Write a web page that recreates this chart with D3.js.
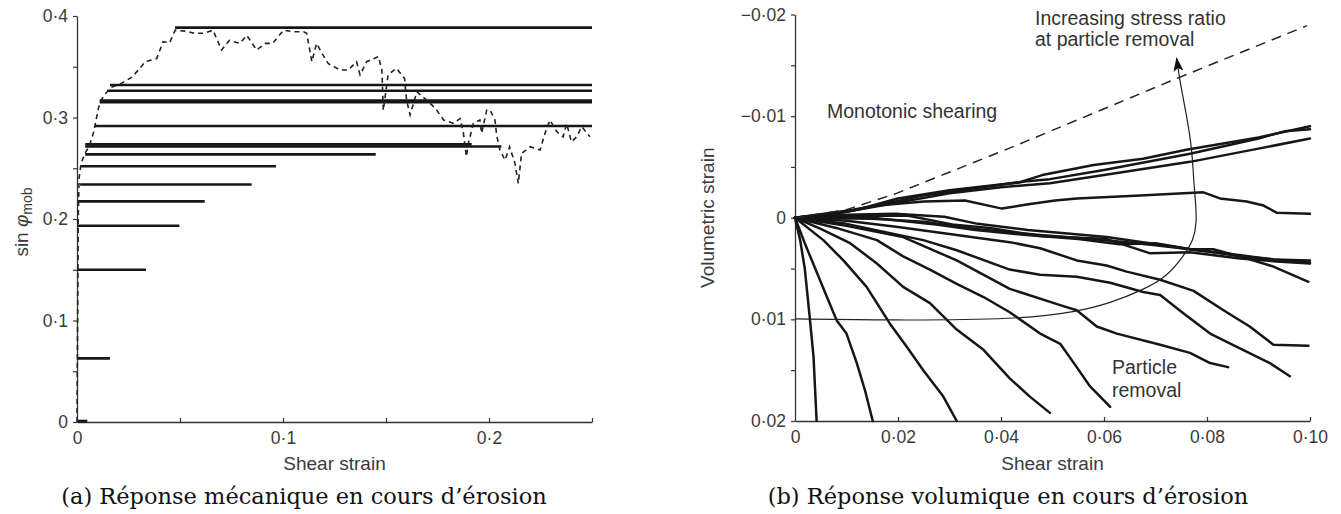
<!DOCTYPE html>
<html><head><meta charset="utf-8">
<script src="https://cdn.jsdelivr.net/npm/d3@7"></script>
<style>
body{margin:0;background:#fff;}
svg{display:block;}
</style></head><body>
<svg id="chart" width="1341" height="514"></svg>
<script>
// ---------------- DATA ----------------
// Panel (a): monotonic shearing curve (dashed): shear strain vs sin phi_mob
const monoStrain = [0,0.0003,0.0006,0.001,0.002,0.004,0.006,0.008,0.009,0.0105,0.012,0.014,0.017,0.021,0.0265,0.0306,0.033,0.0387,0.0418,0.045,0.0476,0.053,0.057,0.0614,0.066,0.0702,0.074,0.079,0.0824,0.0872,0.0913,0.095,0.1002,0.105,0.11,0.1115,0.114,0.1163,0.119,0.122,0.1277,0.1317,0.1357,0.1374,0.1406,0.1463,0.148,0.1487,0.151,0.155,0.159,0.16,0.1617,0.165,0.1706,0.174,0.178,0.1827,0.186,0.1876,0.189,0.19,0.1924,0.1956,0.1964,0.1989,0.2005,0.2029,0.2037,0.2053,0.2078,0.21,0.2126,0.2142,0.2158,0.22,0.2248,0.2272,0.2296,0.2329,0.236,0.2377,0.24,0.2426,0.245,0.249];
const monoSin = [0,0.10,0.20,0.24,0.255,0.265,0.272,0.285,0.295,0.31,0.318,0.324,0.33,0.333,0.3395,0.3485,0.355,0.358,0.3747,0.3737,0.386,0.385,0.383,0.383,0.386,0.3665,0.376,0.373,0.381,0.3665,0.373,0.373,0.386,0.3845,0.3845,0.383,0.355,0.373,0.363,0.353,0.3468,0.3468,0.355,0.342,0.355,0.36,0.3468,0.307,0.342,0.3485,0.3385,0.317,0.3025,0.3254,0.3155,0.309,0.2975,0.2943,0.299,0.2844,0.2614,0.2745,0.2943,0.2975,0.2844,0.3074,0.3074,0.2975,0.2828,0.268,0.258,0.2712,0.2548,0.235,0.2646,0.2712,0.268,0.2844,0.2975,0.286,0.281,0.294,0.276,0.281,0.291,0.281];
// Panel (a): constant stress-ratio lines after particle removal
const removalSin   = [0.3885,0.332,0.3264,0.3168,0.315,0.2916,0.2735,0.2715,0.2637,0.252,0.234,0.2174,0.1934,0.15,0.0627,0.001];
const removalStart = [0.0476,0.016,0.0146,0.011,0.011,0.0087,0.004,0.004,0.004,0.002,0.0015,0.0005,0.0003,0.0003,0.0002,0];
const removalEnd   = [0.25,0.25,0.25,0.25,0.25,0.25,0.1916,0.206,0.145,0.0966,0.0848,0.062,0.0497,0.0335,0.016,0.005];

// Panel (b): [shear strain, volumetric strain]
const monoVol = [[0,0],[0.01,-0.0008],[0.0197,-0.0024],[0.0424,-0.0070],[0.0741,-0.0137],[0.0994,-0.0189]];
const curveA = [[0,0],[0.006,-0.0003],[0.012,-0.0008],[0.02,-0.0019],[0.03,-0.0027],[0.0437,-0.0035],[0.048,-0.0042],[0.058,-0.0052],[0.0676,-0.0058],[0.076,-0.0067],[0.09,-0.0079],[0.1,-0.0090]];
const curveB = [[0,0],[0.008,-0.0004],[0.015,-0.0011],[0.025,-0.0022],[0.035,-0.0029],[0.045,-0.0036],[0.0495,-0.0038],[0.06,-0.0047],[0.0767,-0.0063],[0.09,-0.0078],[0.095,-0.0085],[0.1,-0.0087]];
const curveC = [[0,0],[0.01,-0.0006],[0.02,-0.0015],[0.03,-0.0024],[0.04,-0.003],[0.0495,-0.0034],[0.06,-0.0042],[0.0767,-0.0055],[0.09,-0.0068],[0.1,-0.0078]];
const curveD = [[0,0],[0.01,-0.0007],[0.0161,-0.0012],[0.025,-0.0016],[0.033,-0.0017],[0.0402,-0.0009],[0.045,-0.0013],[0.0505,-0.0017],[0.0547,-0.0019],[0.067,-0.0022],[0.0793,-0.0025],[0.0825,-0.0019],[0.0877,-0.0016],[0.091,-0.0012],[0.0935,-0.0005],[0.1,-0.0004]];
const curveE1 = [[0,0],[0.01,-0.0003],[0.0194,-0.0004],[0.029,-0.0001],[0.0355,0.0006],[0.0452,0.0012],[0.054,0.0016],[0.0605,0.0019],[0.0702,0.0026],[0.0767,0.0031],[0.0812,0.0031],[0.0864,0.0038],[0.0929,0.0041],[0.1,0.0042]];
const curveE2 = [[0,0],[0.012,-0.0002],[0.022,-0.0002],[0.031,0.0007],[0.0378,0.0010],[0.0476,0.0018],[0.0605,0.0021],[0.069,0.0035],[0.0767,0.0034],[0.0864,0.0040],[0.0935,0.0043],[0.1,0.0045]];
const curveE3 = [[0,0],[0.015,0],[0.0278,0.0007],[0.035,0.0012],[0.045,0.0017],[0.055,0.0021],[0.063,0.0026],[0.07,0.0025],[0.078,0.0032],[0.085,0.0036],[0.093,0.0041],[0.1,0.0044]];
const curveF = [[0,0],[0.015,0.0001],[0.025,0.0004],[0.035,0.0011],[0.0476,0.0017],[0.06,0.0022],[0.07,0.0027],[0.08,0.0033],[0.0864,0.0038],[0.0929,0.0048],[0.0997,0.0063]];
const curveG = [[0,0],[0.01,0.0003],[0.02,0.0009],[0.0314,0.0017],[0.0417,0.0024],[0.0476,0.003],[0.0547,0.0042],[0.0605,0.0047],[0.0644,0.0053],[0.0709,0.0061],[0.0774,0.0072],[0.0832,0.0091],[0.0883,0.0107],[0.0929,0.0125],[0.0997,0.0126]];
const curveH = [[0,0],[0.01,0.0006],[0.0249,0.0022],[0.0314,0.0032],[0.0417,0.0051],[0.0476,0.0056],[0.0547,0.0058],[0.0612,0.0064],[0.0676,0.0073],[0.0709,0.0076],[0.0754,0.0094],[0.0806,0.0114],[0.0858,0.0127],[0.0922,0.0143],[0.0961,0.0156]];
const curveI = [[0,0],[0.01,0.0008],[0.021,0.0019],[0.0314,0.0042],[0.0417,0.007],[0.0515,0.0086],[0.0547,0.0091],[0.0586,0.0107],[0.0625,0.0114],[0.0709,0.0125],[0.0767,0.0133],[0.0806,0.0143],[0.0841,0.0147]];
const curveJ = [[0,0],[0.008,0.001],[0.0159,0.0022],[0.021,0.0038],[0.0262,0.0051],[0.0314,0.0065],[0.0366,0.0078],[0.0417,0.0093],[0.0476,0.0114],[0.0515,0.0124],[0.0547,0.0147],[0.0573,0.0166],[0.0612,0.0186]];
const curveK = [[0,0],[0.005,0.0011],[0.0107,0.0025],[0.0159,0.0045],[0.021,0.0068],[0.0262,0.0084],[0.0314,0.011],[0.0366,0.013],[0.0417,0.0158],[0.0456,0.0176],[0.0495,0.0192]];
const curveL = [[0,0],[0.0055,0.0022],[0.0094,0.0042],[0.0139,0.0068],[0.0184,0.0104],[0.0217,0.0127],[0.0249,0.015],[0.0288,0.0176],[0.0314,0.02]];
const curveM = [[0,0],[0.0019,0.0025],[0.0062,0.0078],[0.0081,0.0101],[0.01,0.0114],[0.012,0.0143],[0.0136,0.017],[0.0151,0.02]];
const curveN = [[0,0],[0.001,0.0022],[0.0019,0.005],[0.0029,0.01],[0.0036,0.0137],[0.0042,0.02]];
const removalCurves = [curveA,curveB,curveC,curveD,curveE1,curveE2,curveE3,curveF,curveG,curveH,curveI,curveJ,curveK,curveL,curveM,curveN];
// annotation arrow (increasing stress ratio)
const arrowPath = [[0,0.00995],[0.0184,0.0101],[0.0437,0.0100],[0.0547,0.00925],[0.0612,0.0084],[0.0676,0.0071],[0.0722,0.0058],[0.0754,0.0038],[0.0774,0.0022],[0.078,0.0005],[0.0778,-0.0015],[0.0774,-0.0037],[0.0771,-0.0067],[0.0761,-0.0099],[0.0748,-0.0132],[0.0741,-0.0157]];

// ticks
const leftXTicks = [0.05,0.1,0.15,0.2,0.25];
const leftXTickLabels = ["","0·1","","0·2",""];
const leftYTicks = [0,0.05,0.1,0.15,0.2,0.25,0.3,0.35,0.4];
const leftYTickLabels = ["0","","0·1","","0·2","","0·3","","0·4"];
const rightXTicks = [0,0.02,0.04,0.06,0.08,0.1];
const rightXTickLabels = ["0","0·02","0·04","0·06","0·08","0·10"];
const rightYTicks = [-0.02,-0.015,-0.01,-0.005,0,0.005,0.01,0.015,0.02];
const rightYTickLabels = ["\u22120·02","","\u22120·01","","0","","0·01","","0·02"];

// ---------------- DRAW ----------------
const svg = d3.select("#chart");
const SANS = "'Liberation Sans', Arial, Helvetica, sans-serif";
const AX = "#333";
const INK = "#161616";

// scales
const xL = d3.scaleLinear().domain([0,0.25]).range([77,592]);
const yL = d3.scaleLinear().domain([0,0.4]).range([422,16]);
const xR = d3.scaleLinear().domain([0,0.1]).range([795,1310]);
const yR = d3.scaleLinear().domain([-0.02,0.02]).range([14.5,421]);

function styleAxis(g){
  g.select(".domain").attr("stroke",AX).attr("stroke-width",1.3);
  g.selectAll(".tick line").attr("stroke",AX).attr("stroke-width",1.2);
  g.selectAll(".tick text").attr("fill","#3a3a3a").style("font-family",SANS).style("font-size","17.5px");
}

// ---- left panel ----
const gL = svg.append("g");
gL.append("g").attr("transform",`translate(0,${yL(0)})`)
  .call(d3.axisBottom(xL).tickValues([0]).tickFormat(()=> "0").tickSize(0).tickSizeOuter(0).tickPadding(10))
  .call(g=>{g.select(".domain").remove(); styleAxis(g);});
gL.append("g").attr("transform",`translate(0,${yL(0)})`)
  .call(d3.axisBottom(xL).tickValues(leftXTicks).tickFormat((d,i)=>leftXTickLabels[i]).tickSize(-4).tickSizeOuter(0).tickPadding(10))
  .call(styleAxis);
gL.append("g").attr("transform",`translate(${xL(0)},0)`)
  .call(d3.axisLeft(yL).tickValues(leftYTicks).tickFormat((d,i)=>leftYTickLabels[i]).tickSize(4).tickSizeOuter(0).tickPadding(5))
  .call(styleAxis);

// horizontal removal lines
gL.append("g").selectAll("line").data(removalSin).join("line")
  .attr("x1",(d,i)=>xL(removalStart[i])).attr("x2",(d,i)=>xL(removalEnd[i]))
  .attr("y1",d=>yL(d)).attr("y2",d=>yL(d))
  .attr("stroke",INK).attr("stroke-width",2.6);

// dashed monotonic curve
const monoPts = monoStrain.map((s,i)=>[s,monoSin[i]]);
gL.append("path").datum(monoPts)
  .attr("d",d3.line().x(d=>xL(d[0])).y(d=>yL(d[1])))
  .attr("fill","none").attr("stroke","#222").attr("stroke-width",1.6).attr("stroke-dasharray","5,4");

// titles
gL.append("text").attr("x",(xL(0)+xL(0.25))/2).attr("y",470).attr("text-anchor","middle")
  .style("font-family",SANS).style("font-size","19px").attr("fill","#3a3a3a").text("Shear strain");
const yt = gL.append("text").attr("transform","translate(28,222) rotate(-90)").attr("text-anchor","middle")
  .style("font-family",SANS).style("font-size","19px").attr("fill","#3a3a3a");
yt.append("tspan").text("sin ");
yt.append("tspan").style("font-style","italic").text("φ");
yt.append("tspan").style("font-size","14px").attr("dy","4").text("mob");

// ---- right panel ----
const gR = svg.append("g");
gR.append("g").attr("transform",`translate(0,${yR(0.02)})`)
  .call(d3.axisBottom(xR).tickValues(rightXTicks).tickFormat((d,i)=>rightXTickLabels[i]).tickSize(-4).tickSizeOuter(0).tickPadding(10))
  .call(g=>{styleAxis(g); g.selectAll(".tick line").filter(d=>d===0).remove();});
gR.append("g").attr("transform",`translate(${xR(0)},0)`)
  .call(d3.axisLeft(yR).tickValues(rightYTicks).tickFormat((d,i)=>rightYTickLabels[i]).tickSize(4).tickSizeOuter(0).tickPadding(5))
  .call(styleAxis);

const lineR = d3.line().x(d=>xR(d[0])).y(d=>yR(d[1])).curve(d3.curveLinear);
gR.append("g").selectAll("path").data(removalCurves).join("path")
  .attr("d",lineR).attr("fill","none").attr("stroke",INK).attr("stroke-width",2.5)
  .attr("stroke-linejoin","round").attr("stroke-linecap","round");

gR.append("path").datum(monoVol).attr("d",lineR)
  .attr("fill","none").attr("stroke","#222").attr("stroke-width",1.5).attr("stroke-dasharray","10,7");

// arrow
svg.append("defs").append("marker").attr("id","arrowhead")
  .attr("viewBox","0 0 14 10").attr("refX",13).attr("refY",5)
  .attr("markerWidth",14).attr("markerHeight",10).attr("markerUnits","userSpaceOnUse")
  .attr("orient","auto")
  .append("path").attr("d","M0,0 L14,5 L0,10 L3,5 Z").attr("fill","#111");
gR.append("path").datum(arrowPath)
  .attr("d",d3.line().x(d=>xR(d[0])).y(d=>yR(d[1])).curve(d3.curveBasis))
  .attr("fill","none").attr("stroke","#222").attr("stroke-width",1.2).attr("marker-end","url(#arrowhead)");

// annotations
const ann = (x,y,t)=>gR.append("text").attr("x",x).attr("y",y)
  .style("font-family",SANS).style("font-size","19.5px").attr("fill","#333").text(t);
ann(827,118,"Monotonic shearing");
ann(1035,25,"Increasing stress ratio");
ann(1035,46,"at particle removal");
ann(1112,374,"Particle");
ann(1112,397,"removal");

gR.append("text").attr("x",(xR(0)+xR(0.1))/2).attr("y",470).attr("text-anchor","middle")
  .style("font-family",SANS).style("font-size","19px").attr("fill","#3a3a3a").text("Shear strain");
gR.append("text").attr("transform",`translate(714,${yR(0)}) rotate(-90)`).attr("text-anchor","middle")
  .style("font-family",SANS).style("font-size","19px").attr("fill","#3a3a3a").text("Volumetric strain");

// captions
const SERIF = "'DejaVu Serif', 'Liberation Serif', serif";
svg.append("text").attr("x",304).attr("y",504).attr("text-anchor","middle")
  .style("font-family",SERIF).style("font-size","22.5px").attr("fill","#111")
  .text("(a) Réponse mécanique en cours d’érosion");
svg.append("text").attr("x",1008).attr("y",504).attr("text-anchor","middle")
  .style("font-family",SERIF).style("font-size","22.5px").attr("fill","#111")
  .text("(b) Réponse volumique en cours d’érosion");
</script>
</body></html>
